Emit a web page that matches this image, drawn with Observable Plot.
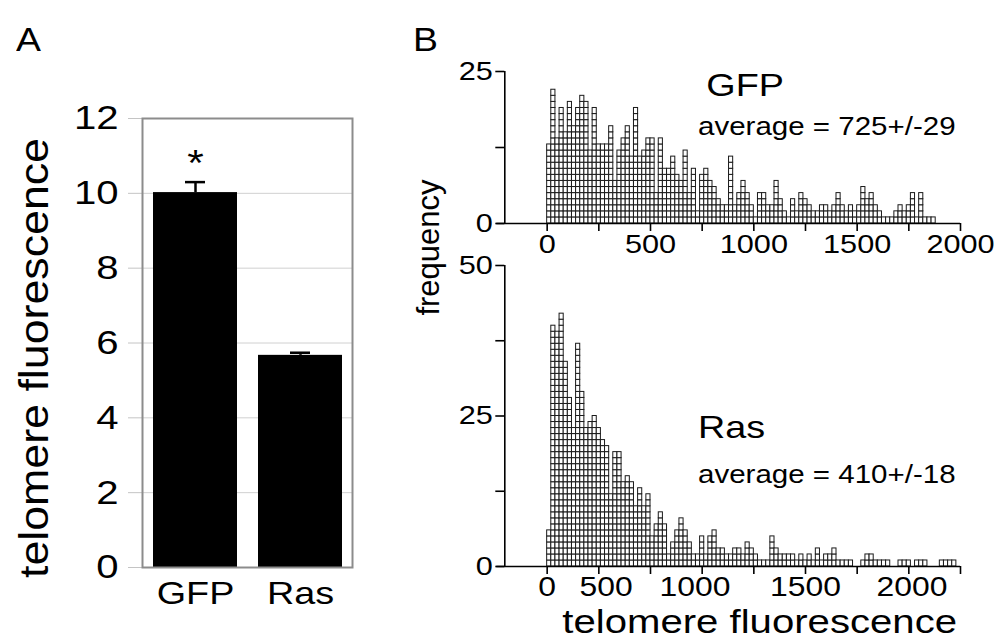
<!DOCTYPE html>
<html><head><meta charset="utf-8">
<script src="https://cdn.jsdelivr.net/npm/d3@7"></script>
<script src="https://cdn.jsdelivr.net/npm/@observablehq/plot@0.6"></script>
<style>
body{margin:0;background:#fff;}
#wrap{position:relative;width:1000px;height:642px;overflow:hidden;font-family:"Liberation Sans",Arial,sans-serif;background:#fff;}
.panel{position:absolute;}
.letter{position:absolute;font-size:34px;line-height:34px;color:#000;transform:scaleX(1.1);transform-origin:left top;}
</style></head><body><div id="wrap">
<div class="letter" style="left:16px;top:22px;">A</div>
<div class="letter" style="left:413px;top:22px;">B</div>
</div>
<script>
const FONT = '"Liberation Sans", Arial, sans-serif';
const STRETCH = 1.18;

// Panel A data
const groups = ["GFP", "Ras"];
const meanFluor = [10.02, 5.67];
const semFluor = [0.28, 0.07];
const yTicksA = [0, 2, 4, 6, 8, 10, 12];
const yTitleA = "telomere fluorescence";

// Panel B data (histograms, bin width 20)
const binWidth = 20;
const gfpCounts = [13,22,14,19,15,20,16,19,21,20,12,19,13,13,13,16,7,12,14,16,11,19,11,12,14,14,5,14,9,9,11,8,7,12,5,9,2,8,9,7,6,4,3,3,11,3,5,7,
  5,3,1,5,5,3,3,7,4,2,1,4,2,5,4,3,2,2,3,3,2,3,5,3,2,3,2,3,6,4,5,3,2,1,1,1,2,3,2,3,5,1,5,1,1,1];
const rasCounts = [6,40,39,42,34,28,23,37,29,23,24,25,23,21,20,12,19,19,14,15,14,10,13,10,12,5,7,9,7,2,4,6,8,6,4,2,2,5,2,5,6,3,3,2,
  2,3,3,2,4,3,2,1,1,1,5,3,2,2,2,2,1,2,1,2,1,3,1,2,2,3,1,1,1,1,0,0,1,2,2,1,1,1,1,0,0,1,1,1,0,1,1,1,0,0,0,1,1,1,1];
const histTicks = [0, 500, 1000, 1500, 2000];
const histMinorTicks = [250, 750, 1250, 1750];
const histTickLabels = ["0", "500", "1000", "1500", "2000"];
const rasTickLabelPos = [0, 285, 715, 1250, 1765];
const gfpTicksY = [0, 12.5, 25];
const rasTicksY = [0, 12.5, 25, 37.5, 50];
const gfpName = "GFP", gfpAvg = "average = 725+/-29";
const rasName = "Ras", rasAvg = "average = 410+/-18";
const xTitleB = "telomere fluorescence";
const yTitleB = "frequency";

const wrap = document.getElementById("wrap");
function place(svg, left, top) {
  svg.classList.add("panel");
  svg.style.left = left + "px";
  svg.style.top = top + "px";
  wrap.appendChild(svg);
  return svg;
}
function stretchTexts(svg, rotatedLengths) {
  svg.querySelectorAll("text").forEach(t => {
    const tr = t.getAttribute("transform") || "";
    const len = t.getComputedTextLength();
    if (!len) return;
    if (tr.includes("rotate")) {
      const L = rotatedLengths[t.textContent];
      if (L) { t.setAttribute("textLength", L); t.setAttribute("lengthAdjust", "spacingAndGlyphs"); }
    } else {
      t.setAttribute("textLength", len * STRETCH);
      t.setAttribute("lengthAdjust", "spacingAndGlyphs");
    }
  });
}

// ---------- Panel A ----------
const barData = groups.map((g, i) => ({group: g, mean: meanFluor[i], sem: semFluor[i]}));
const plotA = Plot.plot({
  width: 380, height: 642,
  marginLeft: 142, marginRight: 28, marginTop: 118, marginBottom: 75,
  style: {background: "transparent", overflow: "visible", fontFamily: FONT, color: "#000"},
  x: {domain: groups, paddingInner: 0.2, paddingOuter: 0.1, label: null},
  y: {domain: [0, 12], label: null},
  marks: [
    Plot.gridY(yTicksA, {stroke: "#d0d0d0", strokeOpacity: 1, strokeWidth: 1}),
    Plot.axisY(yTicksA, {tickSize: 14, stroke: "#c4c4c4", tickPadding: 10, fontSize: 34, label: null}),
    Plot.axisX({tickSize: 0, tickPadding: 14, fontSize: 32, label: null}),
    Plot.barY(barData, {x: "group", y: "mean", fill: "#000"}),
    Plot.ruleX(barData, {x: "group", y1: "mean", y2: d => d.mean + d.sem, stroke: "#000", strokeWidth: 2.5}),
    Plot.tickY(barData, {x: "group", y: d => d.mean + d.sem, stroke: "#000", strokeWidth: 2.5, insetLeft: 32, insetRight: 32}),
    Plot.text(barData.slice(0, 1), {x: "group", y: d => d.mean + d.sem, text: () => "*", dy: -18, fontSize: 36}),
    Plot.frame({stroke: "#8c8c8c", strokeWidth: 2}),
    Plot.text([yTitleA], {frameAnchor: "left", textAnchor: "middle", lineAnchor: "middle", rotate: -90, dx: -107, dy: 15, fontSize: 40, text: d => d})
  ]
});
place(plotA, 0, 0);
stretchTexts(plotA, {[yTitleA]: 440});

// ---------- Panel B ----------
const xDomainB = [-205, 2000];
function cells(counts) {
  return counts.flatMap((c, i) => d3.range(c).map(k => ({x1: i * binWidth, x2: (i + 1) * binWidth, y1: k, y2: k + 1})));
}
const cellStyle = {x1: "x1", x2: "x2", y1: "y1", y2: "y2", fill: "#fff", stroke: "#1a1a1a", strokeWidth: 1};

const plotG = Plot.plot({
  width: 580, height: 220,
  marginLeft: 84.3, marginRight: 40, marginTop: 31, marginBottom: 37,
  style: {background: "transparent", overflow: "visible", fontFamily: FONT, color: "#000"},
  x: {domain: xDomainB, label: null},
  y: {domain: [0, 25], label: null},
  marks: [
    Plot.rect(cells(gfpCounts), cellStyle),
    Plot.ruleY([0], {insetLeft: -8, stroke: "#000", strokeWidth: 1.6}),
    Plot.ruleX([xDomainB[0]], {y1: 0, y2: 25, stroke: "#000", strokeWidth: 1.6}),
    Plot.axisX(histTicks, {tickSize: 8, tickPadding: 3, fontSize: 26, strokeWidth: 1.6, tickFormat: d => histTickLabels[histTicks.indexOf(d)], label: null}),
    Plot.axisX(histMinorTicks, {tickSize: 8, strokeWidth: 1.6, tickFormat: () => "", label: null}),
    Plot.axisY(gfpTicksY, {tickSize: 9, tickPadding: 3, strokeWidth: 1.6, fontSize: 26, tickFormat: d => d === 12.5 ? "" : d, label: null}),
    Plot.text([gfpName], {x: 770, y: 22.6, text: d => d, fontSize: 32, textAnchor: "start"}),
    Plot.text([gfpAvg], {x: 730, y: 15.9, text: d => d, fontSize: 25, textAnchor: "start"})
  ]
});
place(plotG, 420, 40);
stretchTexts(plotG, {});

const plotR = Plot.plot({
  width: 580, height: 385,
  marginLeft: 84.3, marginRight: 40, marginTop: 10, marginBottom: 74,
  style: {background: "transparent", overflow: "visible", fontFamily: FONT, color: "#000"},
  x: {domain: xDomainB, label: null},
  y: {domain: [0, 50], label: null},
  marks: [
    Plot.rect(cells(rasCounts), cellStyle),
    Plot.ruleY([0], {insetLeft: -8, stroke: "#000", strokeWidth: 1.6}),
    Plot.ruleX([xDomainB[0]], {y1: 0, y2: 50, stroke: "#000", strokeWidth: 1.6}),
    Plot.axisX([...histTicks, ...histMinorTicks], {tickSize: 8, strokeWidth: 1.6, tickFormat: () => "", label: null}),
    Plot.axisX(rasTickLabelPos, {tickSize: 0, tickPadding: 10, fontSize: 27, tickFormat: d => histTickLabels[rasTickLabelPos.indexOf(d)], label: null}),
    Plot.axisY(rasTicksY, {tickSize: 9, tickPadding: 3, strokeWidth: 1.6, fontSize: 26, tickFormat: d => (d === 12.5 || d === 37.5) ? "" : d, label: null}),
    Plot.text([rasName], {x: 730, y: 23, text: d => d, fontSize: 32, textAnchor: "start"}),
    Plot.text([rasAvg], {x: 730, y: 15.2, text: d => d, fontSize: 25, textAnchor: "start"}),
    Plot.text([xTitleB], {frameAnchor: "bottom", lineAnchor: "middle", dx: 27, dy: 56, text: d => d, fontSize: 34}),
    Plot.text([yTitleB], {frameAnchor: "top-left", textAnchor: "middle", lineAnchor: "middle", rotate: -90, dx: -76, dy: -18, text: d => d, fontSize: 31})
  ]
});
place(plotR, 420, 255);
stretchTexts(plotR, {});
</script>
</body></html>
